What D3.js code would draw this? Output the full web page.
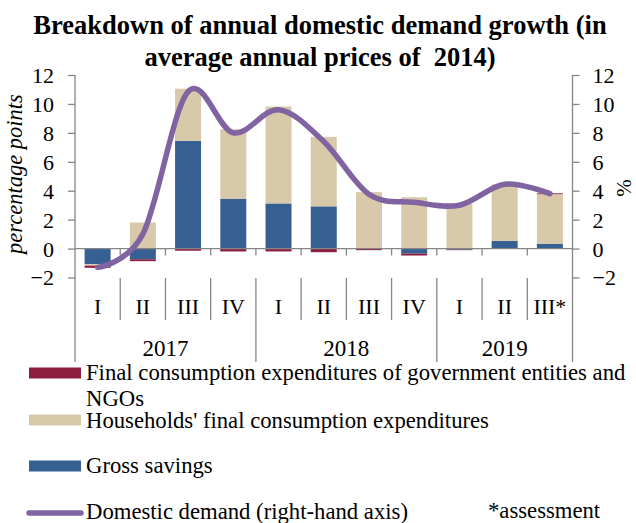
<!DOCTYPE html>
<html>
<head>
<meta charset="utf-8">
<script src="https://cdn.jsdelivr.net/npm/d3@7"></script>
<style>
  body { margin: 0; background: #fff; }
  svg { display: block; }
  text { font-family: "Liberation Serif", "Times New Roman", serif; fill: #000; }
</style>
</head>
<body>
<svg id="chart" width="636" height="523"></svg>
<script>
// Quarterly contributions to domestic demand growth, percentage points
const quarters = ["I", "II", "III", "IV", "I", "II", "III", "IV", "I", "II", "III*"];
const years = ["2017", "2018", "2019"];
const quartersPerYear = [4, 4, 3];
const government = [-0.15, -0.13, -0.15, -0.2, -0.2, -0.25, -0.08, -0.13, -0.03, 0.03, 0.06];
const households = [-0.1, 1.8, 3.6, 4.8, 6.7, 4.8, 3.9, 3.55, 3.1, 3.85, 3.44];
const savings = [-1.08, -0.74, 7.45, 3.45, 3.12, 2.92, -0.03, -0.35, -0.08, 0.53, 0.32];
// Domestic demand growth, % (right-hand axis)
const demand = [-1.3, 1.0, 10.85, 8.0, 9.6, 7.4, 3.75, 3.2, 3.0, 4.45, 3.8];
const yTicks = [-2, 0, 2, 4, 6, 8, 10, 12];

const seriesNames = [
  "Final consumption expenditures of government entities and",
  "Households' final consumption expenditures",
  "Gross savings",
  "Domestic demand (right-hand axis)"
];
const colors = { government: "#8b1e41", households: "#d8c9aa", savings: "#376092", demand: "#8064a2" };
const axisColor = "#868686";

const svg = d3.select("#chart");

const plotLeft = 75, plotRight = 572.5, plotTop = 75, plotBottom = 277.5;

const x = d3.scaleBand()
  .domain(d3.range(quarters.length))
  .range([plotLeft, plotRight])
  .paddingInner(0.425)
  .paddingOuter(0.2125);
const slot = d3.scaleLinear().domain([0, quarters.length]).range([plotLeft, plotRight]);
const y = d3.scaleLinear().domain([-2, 12]).range([plotBottom, plotTop]);
const yRight = d3.scaleLinear().domain([-2, 12]).range([plotBottom, plotTop]);

// Title
const title = svg.append("text")
  .attr("x", 320).attr("text-anchor", "middle")
  .style("font-weight", "bold").style("font-size", "26.5px")
  .style("white-space", "pre");
title.append("tspan").attr("x", 320).attr("y", 34).text("Breakdown of annual domestic demand growth (in");
title.append("tspan").attr("x", 320).attr("y", 66).text("average annual prices of  2014)");

// Stacked bars: savings next to zero, then households, then government
const rows = quarters.map((q, i) => ({ i, savings: savings[i], households: households[i], government: government[i] }));
const stack = d3.stack()
  .keys(["savings", "households", "government"])
  .offset(d3.stackOffsetDiverging);
const layers = stack(rows);

svg.append("g").selectAll("g")
  .data(layers)
  .join("g")
  .attr("fill", d => colors[d.key])
  .selectAll("rect")
  .data(d => d)
  .join("rect")
  .attr("x", d => x(d.data.i))
  .attr("width", x.bandwidth())
  .attr("y", d => y(Math.max(d[0], d[1])))
  .attr("height", d => Math.abs(y(d[0]) - y(d[1])));

// Left axis
const gLeft = svg.append("g").attr("transform", `translate(${plotLeft},0)`)
  .call(d3.axisLeft(y).tickValues(yTicks).tickSize(7).tickPadding(14).tickFormat(d3.format("d")));
// Right axis
const gRight = svg.append("g").attr("transform", `translate(${plotRight},0)`)
  .call(d3.axisRight(yRight).tickValues(yTicks).tickSize(7).tickPadding(13).tickFormat(d3.format("d")));
[gLeft, gRight].forEach(g => {
  g.select(".domain").remove();
  g.selectAll(".tick line").attr("stroke", axisColor).attr("stroke-width", 1.3);
  g.selectAll(".tick text").style("font-size", "22px").style("font-family", "Liberation Serif").attr("dy", "0.34em");
});
// Axis verticals run down through the category label area
svg.append("line").attr("x1", plotLeft).attr("x2", plotLeft).attr("y1", plotTop).attr("y2", 362)
  .attr("stroke", axisColor).attr("stroke-width", 1.3);
svg.append("line").attr("x1", plotRight).attr("x2", plotRight).attr("y1", plotTop).attr("y2", 362)
  .attr("stroke", axisColor).attr("stroke-width", 1.3);

// Zero line with category ticks
svg.append("line").attr("x1", plotLeft).attr("x2", plotRight).attr("y1", y(0)).attr("y2", y(0))
  .attr("stroke", axisColor).attr("stroke-width", 1.3);
svg.append("g").selectAll("line")
  .data(d3.range(1, quarters.length))
  .join("line")
  .attr("x1", d => slot(d)).attr("x2", d => slot(d))
  .attr("y1", y(0)).attr("y2", y(0) + 7)
  .attr("stroke", axisColor).attr("stroke-width", 1.3);

// Multi-level category labels
const yearStarts = d3.cumsum([0, ...quartersPerYear]).slice(0, -1);
const yearBounds = new Set(d3.cumsum(quartersPerYear));
svg.append("g").selectAll("line")
  .data(d3.range(1, quarters.length))
  .join("line")
  .attr("x1", d => slot(d)).attr("x2", d => slot(d))
  .attr("y1", 278)
  .attr("y2", d => yearBounds.has(d) ? 362 : 320)
  .attr("stroke", axisColor).attr("stroke-width", 1.3);

svg.append("g").selectAll("text")
  .data(quarters)
  .join("text")
  .attr("x", (d, i) => x(i) + x.bandwidth() / 2)
  .attr("y", 314)
  .attr("text-anchor", "middle")
  .style("font-size", "22px")
  .text(d => d);

svg.append("g").selectAll("text")
  .data(years)
  .join("text")
  .attr("x", (d, i) => (slot(yearStarts[i]) + slot(yearStarts[i] + quartersPerYear[i])) / 2)
  .attr("y", 356)
  .attr("text-anchor", "middle")
  .style("font-size", "23px")
  .text(d => d);

// Domestic demand line
const line = d3.line()
  .x((d, i) => x(i) + x.bandwidth() / 2)
  .y(d => yRight(d))
  .curve(d3.curveCardinal.tension(0));
svg.append("path")
  .datum(demand)
  .attr("d", line)
  .attr("fill", "none")
  .attr("stroke", colors.demand)
  .attr("stroke-width", 5.5)
  .attr("stroke-linecap", "round")
  .attr("stroke-linejoin", "round");

// Axis titles
svg.append("text")
  .attr("transform", "translate(22,174) rotate(-90)")
  .attr("text-anchor", "middle")
  .style("font-size", "22.5px").style("font-style", "italic")
  .text("percentage points");
svg.append("text")
  .attr("transform", "translate(631,188) rotate(-90)")
  .attr("text-anchor", "middle")
  .style("font-size", "21px")
  .text("%");

// Legend
const legend = svg.append("g");
const swatchRows = [
  { key: "government", cy: 373, texts: [[seriesNames[0], 380], ["NGOs", 405.5]] },
  { key: "households", cy: 420, texts: [[seriesNames[1], 428]] },
  { key: "savings", cy: 466, texts: [[seriesNames[2], 473]] }
];
swatchRows.forEach(r => {
  legend.append("rect").attr("x", 29).attr("y", r.cy - 5.5).attr("width", 52).attr("height", 11)
    .attr("fill", colors[r.key]);
  r.texts.forEach(([t, by]) => {
    legend.append("text").attr("x", 86).attr("y", by).style("font-size", "22.7px").text(t);
  });
});
legend.append("line").attr("x1", 29).attr("x2", 81).attr("y1", 513).attr("y2", 513)
  .attr("stroke", colors.demand).attr("stroke-width", 5.5).attr("stroke-linecap", "round");
legend.append("text").attr("x", 86).attr("y", 519).style("font-size", "22.7px").text(seriesNames[3]);
legend.append("text").attr("x", 488).attr("y", 518).style("font-size", "22.7px").text("*assessment");
</script>
</body>
</html>
